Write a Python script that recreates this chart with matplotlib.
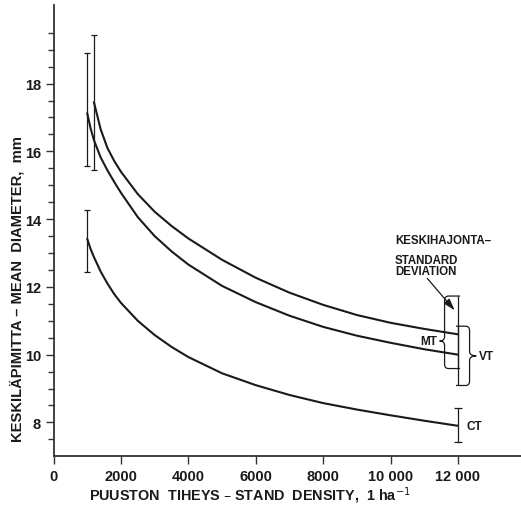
import matplotlib
matplotlib.use("Agg")
import matplotlib.pyplot as plt
from matplotlib.path import Path
from matplotlib.patches import PathPatch

# Mean diameter (mm) against stand density (stems per ha) for three site types
mt_density = [1200, 1300, 1400, 1600, 1800, 2000, 2500, 3000, 3500, 4000,
              5000, 6000, 7000, 8000, 9000, 10000, 11000, 12000]
mt_diameter = [17.45, 17.05, 16.65, 16.10, 15.72, 15.40, 14.74, 14.22, 13.80,
               13.43, 12.80, 12.27, 11.83, 11.47, 11.17, 10.94, 10.76, 10.60]

vt_density = [1000, 1100, 1200, 1400, 1600, 1800, 2000, 2500, 3000, 3500,
              4000, 5000, 6000, 7000, 8000, 9000, 10000, 11000, 12000]
vt_diameter = [17.13, 16.68, 16.33, 15.82, 15.44, 15.10, 14.78, 14.06, 13.50,
               13.05, 12.66, 12.03, 11.55, 11.15, 10.82, 10.56, 10.35, 10.16,
               10.00]

ct_density = [1000, 1100, 1200, 1400, 1600, 1800, 2000, 2500, 3000, 3500,
              4000, 5000, 6000, 7000, 8000, 9000, 10000, 11000, 12000]
ct_diameter = [13.42, 13.12, 12.88, 12.45, 12.10, 11.79, 11.53, 11.00, 10.58,
               10.23, 9.93, 9.45, 9.10, 8.81, 8.57, 8.38, 8.21, 8.05, 7.90]

# Standard deviation ranges (low, high) at the first and last density
mt_sd_x = [1200, 12000]
mt_sd_low = [15.46, 9.59]
mt_sd_high = [19.43, 11.73]
vt_sd_x = [1000, 12000]
vt_sd_low = [15.58, 9.09]
vt_sd_high = [18.90, 10.84]
ct_sd_x = [1000, 12000]
ct_sd_low = [12.43, 7.42]
ct_sd_high = [14.28, 8.43]

x_ticks = [0, 2000, 4000, 6000, 8000, 10000, 12000]
x_tick_labels = ["0", "2000", "4000", "6000", "8000", "10 000", "12 000"]
y_ticks = [8, 10, 12, 14, 16, 18]

FONT = "Liberation Sans"
W, H, DPI = 521, 506, 100
fig = plt.figure(figsize=(W / DPI, H / DPI), dpi=DPI)
ax_left, ax_bottom, ax_w, ax_h = 53.5 / W, (H - 457.3) / H, (W - 53.5) / W, (457.3 - 6) / H
ax = fig.add_axes([ax_left, ax_bottom, ax_w, ax_h])

XMAX = 13870
ax.set_xlim(0, XMAX)
ax.set_ylim(7.0, 20.32)
units_per_px = XMAX / (ax_w * W)

ink = "#1a1a1a"
for xs, ys in [(mt_density, mt_diameter), (vt_density, vt_diameter),
               (ct_density, ct_diameter)]:
    ax.plot(xs, ys, color=ink, lw=1.5, solid_capstyle="round",
            solid_joinstyle="round", zorder=3)


def sd_bars(xs, lows, highs, caps):
    for x, lo, hi, cap in zip(xs, lows, highs, caps):
        mid = (lo + hi) / 2
        ax.errorbar([x], [mid], yerr=[[mid - lo], [hi - mid]], fmt="none",
                    ecolor=ink, elinewidth=0.9, capsize=cap, capthick=0.9,
                    zorder=2)


sd_bars(mt_sd_x, mt_sd_low, mt_sd_high, [2.4, 0])
sd_bars(vt_sd_x, vt_sd_low, vt_sd_high, [2.4, 0])
sd_bars(ct_sd_x, ct_sd_low, ct_sd_high, [2.4, 3.2])


def brace(x, lo, hi, side, line_px, tip_px, tip_frac=0.5):
    """Curly brace beside a vertical bar at x, spanning lo..hi."""
    s = side * units_per_px
    xl = x + s * line_px
    xt = x + s * tip_px
    xh = x + s * (line_px - 4)
    ym = lo + tip_frac * (hi - lo)
    r = 0.13
    verts = [(x - s * 2, hi), (xh, hi), (xl, hi), (xl, hi - r),
             (xl, ym + r), (xl, ym), (xt, ym),
             (xl, ym), (xl, ym - r),
             (xl, lo + r), (xl, lo), (xh, lo), (x - s * 2, lo)]
    codes = [Path.MOVETO, Path.LINETO, Path.CURVE3, Path.CURVE3,
             Path.LINETO, Path.CURVE3, Path.CURVE3,
             Path.CURVE3, Path.CURVE3,
             Path.LINETO, Path.CURVE3, Path.CURVE3, Path.LINETO]
    ax.add_patch(PathPatch(Path(verts, codes), fill=False, edgecolor=ink,
                           lw=0.9, zorder=2))
    return ym


ym_mt = brace(mt_sd_x[1], mt_sd_low[1], mt_sd_high[1], -1, 13.4, 18.4, 0.38)
ym_vt = brace(vt_sd_x[1], vt_sd_low[1], vt_sd_high[1], +1, 11.6, 18.3, 0.5)

bold = dict(family=FONT, fontweight="bold", color=ink)
ax.text(mt_sd_x[1] - 20.5 * units_per_px, ym_mt, "MT", ha="right",
        va="center", fontsize=8.5, **bold)
ax.text(vt_sd_x[1] + 20.5 * units_per_px, ym_vt, "VT", ha="left",
        va="center", fontsize=8.5, **bold)
ax.text(ct_sd_x[1] + 8.5 * units_per_px, ct_diameter[-1], "CT", ha="left",
        va="center", fontsize=8.5, **bold)

ax.text(10134, 13.37, "KESKIHAJONTA\u2013", ha="left", va="center",
        fontsize=8.3, **bold)
ax.text(10134, 12.80, "STANDARD", ha="left", va="center", fontsize=8.3, **bold)
ax.text(10134, 12.48, "DEVIATION", ha="left", va="center", fontsize=8.3, **bold)
ax.annotate("", xy=(11900, 11.31), xytext=(11090, 12.25),
            arrowprops=dict(arrowstyle="-|>,head_length=0.7,head_width=0.22",
                            color=ink, lw=0.9, shrinkA=0, shrinkB=0))

for side in ("top", "right"):
    ax.spines[side].set_visible(False)
for side in ("left", "bottom"):
    ax.spines[side].set_linewidth(1.3)
    ax.spines[side].set_color("#333333")

ax.set_xticks(x_ticks)
ax.set_xticklabels(x_tick_labels)
ax.set_yticks(y_ticks)
ax.set_yticks([v / 2 for v in range(15, 41) if v % 4 != 0], minor=True)
ax.tick_params(axis="both", which="major", length=6, width=1.0, color="#333333",
               pad=3)
ax.tick_params(axis="y", which="minor", length=4, width=1.0, color="#333333")
for lab in ax.get_xticklabels() + ax.get_yticklabels():
    lab.set_family(FONT)
    lab.set_fontweight("bold")
    lab.set_fontsize(10.5)
    lab.set_color(ink)

fig.text(250 / W, 1 - 496 / H, "PUUSTON  TIHEYS \u2013 STAND  DENSITY,  1 ha$^{-1}$",
         ha="center", va="center", fontsize=10.4, **bold)
fig.text(17 / W, 1 - 289 / H, "KESKIL\u00c4PIMITTA \u2013 MEAN  DIAMETER,  mm",
         ha="center", va="center", rotation=90, fontsize=10.6, **bold)

fig.savefig("out.png", dpi=DPI)
